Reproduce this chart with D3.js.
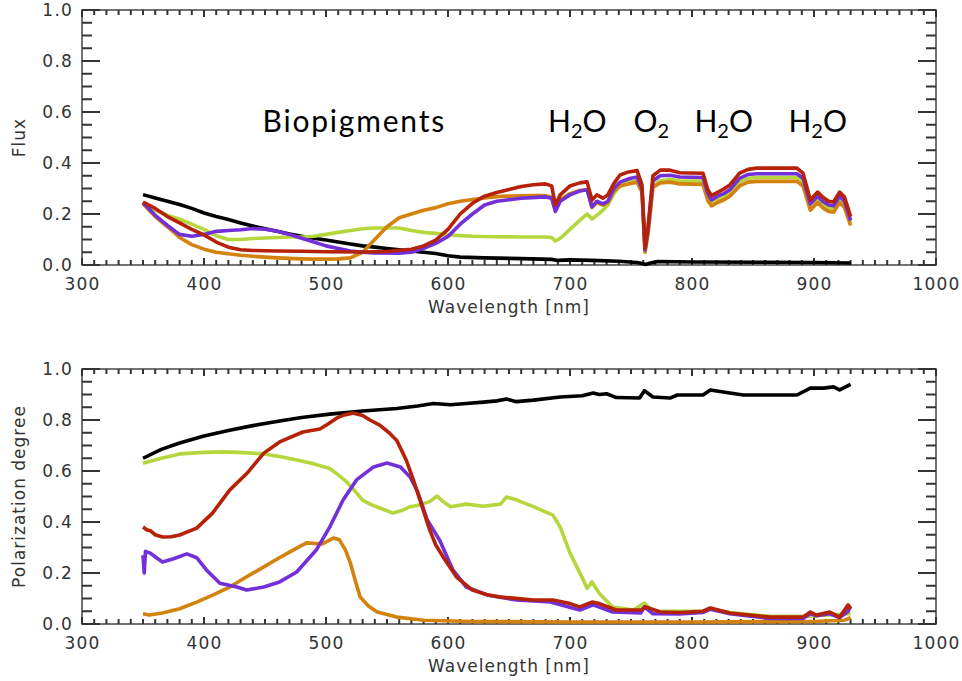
<!DOCTYPE html>
<html>
<head>
<meta charset="utf-8">
<script src="https://cdn.jsdelivr.net/npm/d3@7"></script>
<style>
  body { margin: 0; background: #fff; }
  .tick text { font-family: "DejaVu Sans", sans-serif; font-size: 17px; fill: #333; letter-spacing: 1.2px; }
  .axtitle { font-family: "DejaVu Sans", sans-serif; font-size: 17px; fill: #333; letter-spacing: 1px; }
  .note { font-family: "Lato", "Open Sans", sans-serif; font-size: 30px; fill: #000; }
</style>
</head>
<body>
<script>
// spectra, [wavelength nm, value]
var fluxBlack = [[350,.276],[360,.263],[370,.25],[380,.237],[390,.222],[400,.204],[410,.19],[420,.178],[430,.165],[440,.153],[450,.142],[460,.132],[470,.122],[480,.113],[490,.105],[500,.098],[510,.09],[520,.082],[530,.075],[540,.07],[550,.065],[560,.06],[570,.055],[580,.05],[590,.045],[600,.036],[610,.031],[630,.028],[660,.025],[685,.022],[690,.018],[700,.02],[718,.018],[740,.015],[755,.01],[759,.006],[762,.002],[766,.008],[772,.014],[800,.012],[860,.011],[900,.01],[930,.008]];
var fluxGreen = [[350,.24],[360,.215],[370,.195],[380,.18],[390,.16],[400,.14],[410,.115],[420,.1],[430,.1],[440,.104],[450,.106],[460,.108],[470,.11],[480,.11],[490,.113],[500,.12],[510,.128],[520,.135],[530,.142],[540,.145],[560,.145],[570,.135],[580,.128],[590,.124],[600,.118],[620,.113],[640,.111],[660,.11],[680,.11],[685,.108],[688,.094],[692,.105],[700,.14],[708,.175],[714,.2],[718,.18],[722,.195],[727,.215],[731,.235],[736,.28],[741,.31],[748,.325],[755,.33],[759,.29],[761.5,.055],[764,.13],[768,.31],[774,.33],[782,.335],[790,.33],[809,.328],[813,.265],[816,.243],[821,.257],[826,.266],[831,.28],[839,.325],[846,.34],[853,.343],[886,.343],[891,.325],[897,.228],[903,.258],[907,.238],[912,.223],[916,.22],[921,.258],[925,.238],[930,.165]];
var fluxOrange = [[350,.24],[360,.19],[370,.15],[380,.108],[390,.08],[400,.062],[410,.05],[420,.044],[430,.038],[440,.034],[450,.031],[460,.028],[470,.026],[480,.024],[490,.023],[500,.023],[510,.024],[520,.028],[530,.05],[540,.1],[550,.15],[560,.185],[570,.2],[580,.215],[590,.225],[600,.24],[610,.25],[620,.257],[630,.263],[640,.268],[650,.27],[670,.272],[680,.272],[685,.266],[688,.215],[692,.255],[700,.28],[708,.292],[714,.295],[718,.225],[722,.245],[727,.235],[731,.245],[736,.29],[741,.31],[748,.318],[755,.325],[759,.285],[761.5,.05],[764,.125],[768,.305],[774,.322],[782,.325],[790,.318],[809,.316],[813,.252],[816,.232],[821,.245],[826,.255],[831,.27],[839,.31],[846,.325],[853,.328],[886,.328],[891,.31],[897,.215],[903,.245],[907,.225],[912,.21],[916,.207],[921,.245],[925,.225],[930,.155]];
var fluxPurple = [[350,.245],[360,.195],[370,.155],[380,.12],[390,.113],[400,.12],[410,.132],[420,.135],[430,.138],[440,.143],[450,.14],[460,.132],[470,.12],[480,.105],[490,.09],[500,.075],[510,.065],[520,.055],[530,.05],[540,.047],[560,.046],[570,.05],[580,.065],[590,.085],[600,.112],[610,.16],[620,.2],[630,.235],[640,.25],[650,.256],[660,.262],[680,.267],[685,.262],[688,.21],[692,.25],[700,.275],[708,.29],[714,.295],[718,.228],[722,.25],[727,.24],[731,.25],[736,.3],[741,.325],[748,.338],[755,.345],[759,.3],[761.5,.06],[764,.14],[768,.33],[774,.35],[782,.352],[790,.345],[809,.343],[813,.28],[816,.255],[821,.27],[826,.28],[831,.295],[839,.34],[846,.355],[853,.358],[886,.358],[891,.34],[897,.24],[903,.27],[907,.25],[912,.235],[916,.232],[921,.27],[925,.25],[930,.175]];
var fluxRed = [[350,.247],[360,.222],[370,.19],[380,.165],[390,.14],[400,.118],[410,.09],[420,.07],[430,.06],[440,.057],[460,.055],[480,.054],[500,.052],[530,.051],[550,.053],[560,.058],[570,.062],[580,.075],[590,.098],[600,.14],[610,.2],[620,.242],[630,.27],[640,.284],[650,.296],[660,.308],[670,.315],[680,.318],[685,.31],[688,.235],[692,.275],[700,.31],[708,.322],[714,.326],[718,.255],[722,.275],[727,.262],[731,.275],[736,.32],[741,.353],[748,.365],[755,.37],[759,.314],[761.5,.066],[764,.15],[768,.35],[774,.372],[782,.372],[790,.362],[809,.36],[813,.295],[816,.272],[821,.285],[826,.298],[831,.314],[839,.36],[846,.375],[853,.38],[886,.38],[891,.36],[897,.255],[903,.286],[907,.267],[912,.25],[916,.247],[921,.286],[925,.267],[930,.19]];

var polBlack = [[350,.65],[365,.685],[380,.71],[400,.737],[421,.76],[440,.778],[462,.796],[480,.81],[503,.823],[530,.835],[558,.845],[575,.855],[588,.865],[602,.86],[615,.865],[629,.87],[640,.875],[648,.882],[656,.872],[670,.878],[692,.89],[710,.895],[719,.906],[724,.9],[730,.903],[738,.888],[757,.886],[761,.915],[768,.89],[782,.886],[788,.898],[809,.898],[815,.918],[831,.906],[842,.898],[886,.898],[897,.925],[908,.925],[916,.93],[921,.918],[930,.94]];
var polGreen = [[350,.63],[365,.65],[380,.667],[400,.673],[416,.675],[433,.672],[449,.667],[462,.657],[476,.643],[490,.628],[503,.61],[510,.585],[517,.557],[524,.52],[530,.486],[537,.468],[544,.455],[555,.435],[562,.445],[569,.46],[577,.467],[585,.48],[591,.502],[596,.48],[602,.46],[615,.47],[629,.462],[643,.47],[648,.498],[656,.487],[670,.46],[686,.427],[692,.38],[700,.278],[711,.172],[714,.14],[718,.165],[724,.12],[735,.067],[752,.055],[761,.082],[768,.05],[790,.05],[809,.05],[815,.06],[831,.045],[864,.03],[891,.03],[930,.04]];
var polOrange = [[350,.04],[355,.035],[366,.043],[380,.06],[394,.086],[408,.115],[421,.145],[435,.185],[449,.224],[460,.255],[470,.282],[484,.318],[497,.314],[506,.337],[511,.33],[516,.29],[520,.239],[524,.17],[528,.106],[535,.07],[542,.047],[558,.027],[580,.015],[620,.01],[700,.008],[800,.008],[900,.01],[925,.015],[930,.025]];
var polPurple = [[350,.27],[351,.2],[352,.285],[356,.278],[361,.26],[366,.243],[375,.256],[386,.275],[394,.26],[402,.212],[413,.16],[427,.145],[435,.133],[449,.145],[462,.165],[476,.204],[492,.29],[503,.38],[514,.486],[525,.565],[539,.616],[550,.631],[561,.616],[569,.576],[575,.52],[583,.408],[593,.33],[604,.212],[615,.145],[632,.114],[656,.094],[684,.086],[708,.055],[719,.075],[735,.047],[758,.043],[761,.067],[768,.04],[790,.039],[809,.045],[815,.058],[831,.04],[864,.022],[891,.022],[897,.04],[902,.032],[913,.04],[921,.025],[928,.05],[930,.07]];
var polRed = [[350,.38],[353,.37],[356,.366],[360,.35],[366,.341],[373,.342],[380,.349],[394,.376],[407,.435],[421,.525],[435,.59],[442,.63],[449,.67],[462,.714],[481,.753],[495,.765],[502,.785],[509,.808],[515,.82],[522,.827],[530,.818],[536,.8],[544,.78],[552,.749],[558,.72],[566,.64],[572,.56],[577,.486],[585,.369],[590,.31],[596,.263],[607,.184],[620,.133],[632,.115],[643,.106],[670,.094],[686,.094],[700,.08],[708,.067],[718,.086],[724,.08],[738,.055],[758,.055],[762,.067],[774,.047],[790,.045],[809,.05],[815,.063],[831,.043],[864,.027],[891,.027],[897,.047],[902,.035],[913,.047],[921,.027],[928,.075],[930,.06]];

var xTicks = [300,400,500,600,700,800,900,1000];
var yTicks = [0,0.2,0.4,0.6,0.8,1.0];
var notes = [{parts:["Biopigments"], wl:448}, {parts:["H","2","O"], wl:682}, {parts:["O","2"], wl:752}, {parts:["H","2","O"], wl:802}, {parts:["H","2","O"], wl:879}];

var colBlack = "#000000", colGreen = "#b5d63c", colOrange = "#d3820e", colPurple = "#7330d8", colRed = "#b52208";

var left = 82, right = 936;
var svg = d3.select("body").append("svg").attr("width", 962).attr("height", 681);

var x = d3.scaleLinear().domain([300,1000]).range([left,right]);

function drawPanel(top, bottom, yTitle, series) {
    var y = d3.scaleLinear().domain([0,1]).range([bottom,top]);
    var g = svg.append("g");

    g.append("rect")
        .attr("x", left).attr("y", top)
        .attr("width", right-left).attr("height", bottom-top)
        .attr("fill", "none").attr("stroke", "#444").attr("stroke-width", 1.5);

    //засечки - каждая как отдельный отрезок-путь
    var minorX = d3.range(300, 1001, 10);
    var minorY = d3.range(0, 1.001, 0.05);
    var segs = [];
    minorX.forEach(function(v) {
        var len = xTicks.indexOf(v) >= 0 ? 7 : 5;
        segs.push([[x(v), bottom], [x(v), bottom-len]]);
        segs.push([[x(v), top], [x(v), top+len]]);
    });
    minorY.forEach(function(v) {
        var major = Math.abs(v*5 - Math.round(v*5)) < 1e-6;
        var len = major ? 18 : 10;
        segs.push([[left, y(v)], [left+len, y(v)]]);
        segs.push([[right, y(v)], [right-len, y(v)]]);
    });
    var seg = d3.line();
    g.selectAll("path.tk").data(segs).enter().append("path")
        .attr("class", "tk")
        .attr("d", seg)
        .attr("fill", "none")
        .attr("stroke", "#333")
        .attr("stroke-width", 2);

    //подписи делений
    g.append("g").attr("transform","translate(0,"+bottom+")")
        .call(d3.axisBottom(x).tickValues(xTicks).tickSize(0).tickPadding(13).tickFormat(d3.format("d")));
    g.append("g").attr("transform","translate("+left+",0)")
        .call(d3.axisLeft(y).tickValues(yTicks).tickSize(0).tickPadding(9).tickFormat(d3.format(".1f")));

    g.selectAll(".domain").remove();
    g.selectAll(".tick line").remove();
    g.selectAll(".tick text").attr("font-family", null).attr("font-size", null).attr("fill", null);

    var line = d3.line().x(function(d){return x(d[0]);}).y(function(d){return y(d[1]);});
    series.forEach(function(s) {
        g.append("path").datum(s.data)
            .attr("d", line)
            .attr("fill", "none")
            .attr("stroke", s.color)
            .attr("stroke-width", 3.6)
            .attr("stroke-linejoin", "round");
    });

    g.append("text").attr("class","axtitle")
        .attr("x", (left+right)/2).attr("y", bottom+48)
        .attr("text-anchor","middle")
        .text("Wavelength [nm]");

    g.append("text").attr("class","axtitle")
        .attr("transform","translate(25,"+((top+bottom)/2)+") rotate(-90)")
        .attr("text-anchor","middle")
        .text(yTitle);

    return y;
}

var yTop = drawPanel(10, 265, "Flux", [
    {data: fluxBlack, color: colBlack},
    {data: fluxGreen, color: colGreen},
    {data: fluxOrange, color: colOrange},
    {data: fluxPurple, color: colPurple},
    {data: fluxRed, color: colRed}
]);

drawPanel(369, 624, "Polarization degree", [
    {data: polBlack, color: colBlack},
    {data: polGreen, color: colGreen},
    {data: polOrange, color: colOrange},
    {data: polPurple, color: colPurple},
    {data: polRed, color: colRed}
]);

//подписи полос поглощения
notes.forEach(function(n) {
    var t = svg.append("text").attr("class","note")
        .attr("x", x(n.wl)).attr("y", yTop(0.52));
    if (n.parts.length == 1)
        t.attr("font-size", "31px").attr("letter-spacing", "1.8px");
    n.parts.forEach(function(p, i) {
        var sub = (n.parts.length > 1 && p == "2");
        var ts = t.append("tspan").text(p);
        if (sub) ts.attr("font-size", "20px").attr("dy", "6");
        else if (i > 0) ts.attr("dy", "-6");
    });
});
</script>
</body>
</html>
